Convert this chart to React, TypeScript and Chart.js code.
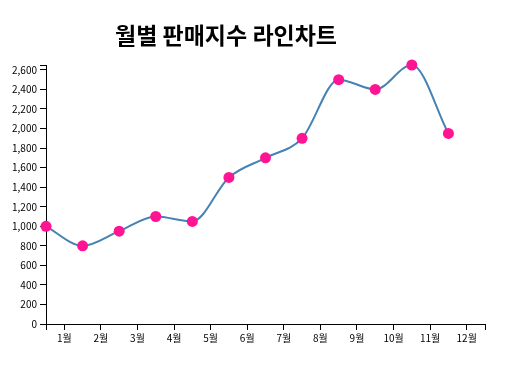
import React, { useEffect, useRef } from "react";
import { Chart, registerables } from "chart.js";

Chart.register(...registerables);

const TITLE = "월별 판매지수 라인차트";
const MONTHS = ["1월", "2월", "3월", "4월", "5월", "6월", "7월", "8월", "9월", "10월", "11월", "12월"];
const SALES = [1000, 800, 950, 1100, 1050, 1500, 1700, 1900, 2500, 2400, 2650, 1950];
const Y_TICKS = [0, 200, 400, 600, 800, 1000, 1200, 1400, 1600, 1800, 2000, 2200, 2400, 2600];
const Y_MAX = 2650;

const FONT = "'Noto Sans CJK KR', 'Noto Sans', sans-serif";

const titlePlugin = {
  id: "customTitle",
  afterDraw(chart: any) {
    const ctx = chart.ctx;
    ctx.save();
    ctx.font = `bold 23px ${FONT}`;
    ctx.fillStyle = "#000";
    ctx.textAlign = "center";
    ctx.textBaseline = "middle";
    ctx.fillText(TITLE, 226, 35);
    ctx.restore();
  },
};

export default function App() {
  const ref = useRef<HTMLCanvasElement>(null);

  useEffect(() => {
    if (!ref.current) return;
    const chart = new Chart(ref.current, {
      type: "line",
      data: {
        datasets: [
          {
            data: SALES.map((v, i) => ({ x: i, y: v })),
            borderColor: "#4682b4",
            borderWidth: 2,
            cubicInterpolationMode: "monotone",
            pointRadius: 5.5,
            pointBackgroundColor: "#ff1493",
            pointBorderWidth: 0,
            pointHoverRadius: 5.5,
            fill: false,
            clip: false as any,
          },
        ],
      },
      options: {
        animation: false,
        responsive: false,
        events: [],
        layout: { padding: { left: 0, top: 65, right: 28, bottom: 0 } },
        plugins: {
          legend: { display: false },
          tooltip: { enabled: false },
          title: { display: false },
        },
        scales: {
          x: {
            type: "linear",
            min: 0,
            max: MONTHS.length,
            afterBuildTicks: (scale: any) => {
              const t = [{ value: 0 }];
              MONTHS.forEach((_, i) => t.push({ value: i + 0.5 }));
              t.push({ value: MONTHS.length });
              scale.ticks = t;
            },
            afterFit: (scale: any) => {
              scale.height = 53;
            },
            ticks: {
              autoSkip: false,
              maxRotation: 0,
              minRotation: 0,
              padding: 2,
              color: "#000",
              font: { family: FONT, size: 10 },
              callback: (value: any) => {
                const v = Number(value);
                if (v === 0 || v === MONTHS.length) return "";
                return MONTHS[Math.floor(v)];
              },
            },
            grid: {
              drawOnChartArea: false,
              drawTicks: true,
              tickLength: 6,
              tickColor: "#000",
              tickWidth: 1,
            },
            border: { display: true, color: "#000", width: 1 },
          },
          y: {
            type: "linear",
            min: 0,
            max: Y_MAX,
            afterBuildTicks: (scale: any) => {
              scale.ticks = [...Y_TICKS, Y_MAX].map((v) => ({ value: v }));
            },
            afterFit: (scale: any) => {
              scale.width = 46;
            },
            ticks: {
              autoSkip: false,
              padding: 3,
              color: "#000",
              font: { family: FONT, size: 10 },
              callback: (value: any) => {
                const v = Number(value);
                if (v === Y_MAX) return "";
                return v.toLocaleString("en-US");
              },
            },
            grid: {
              drawOnChartArea: false,
              drawTicks: true,
              tickLength: 6,
              tickColor: "#000",
              tickWidth: 1,
            },
            border: { display: true, color: "#000", width: 1 },
          },
        },
      },
      plugins: [titlePlugin],
    } as any);
    return () => chart.destroy();
  }, []);

  return (
    <canvas
      ref={ref}
      width={513}
      height={377}
      style={{ position: "fixed", left: 0, top: 0, width: 513, height: 377, background: "#fff" }}
    />
  );
}
